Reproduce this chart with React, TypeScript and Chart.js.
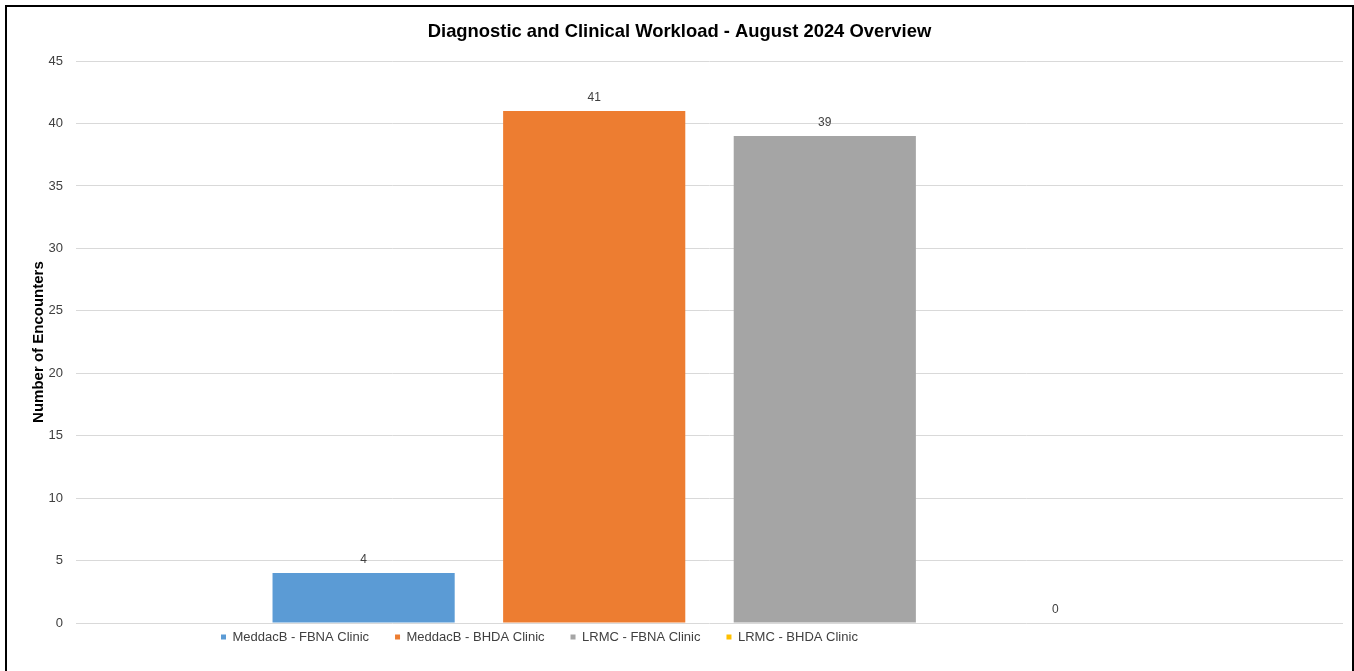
import React, { useEffect, useRef } from 'react';
import { Chart, registerables } from 'chart.js';

Chart.register(...registerables);

// ---- data ----
const categories = ['August 2024'];
const seriesNames = [
  'MeddacB - FBNA Clinic',
  'MeddacB - BHDA Clinic',
  'LRMC - FBNA Clinic',
  'LRMC - BHDA Clinic',
];
const meddacbFbnaValues = [4];
const meddacbBhdaValues = [41];
const lrmcFbnaValues = [39];
const lrmcBhdaValues = [0];
const seriesColors = ['#5B9BD5', '#ED7D31', '#A5A5A5', '#FFC000'];
const yMin = 0;
const yMax = 45;
const yStep = 5;

const chartTitle = 'Diagnostic and Clinical Workload - August 2024 Overview';
const yAxisTitle = 'Number of Encounters';

// ---- layout constants ----
const CANVAS_W = 1345;
const CANVAS_H = 665;
const LEGEND_FIRST_X = 214;
const LEGEND_CENTER_Y = 630;

const FONT = "'Liberation Sans', Arial, sans-serif";

const legendPlacer = {
  id: 'legendPlacer',
  afterLayout(chart: any) {
    const lg = chart.legend;
    if (!lg) return;
    const pad = lg.options.labels.padding;
    const h = lg.bottom - lg.top;
    lg.left = LEGEND_FIRST_X - pad;
    lg.right = CANVAS_W;
    lg.top = LEGEND_CENTER_Y - pad - 6.5;
    lg.bottom = lg.top + h;
  },
};

const valueLabels = {
  id: 'valueLabels',
  afterDatasetsDraw(chart: any) {
    const ctx = chart.ctx;
    ctx.save();
    ctx.font = `12px ${FONT}`;
    ctx.fillStyle = '#404040';
    ctx.textAlign = 'center';
    ctx.textBaseline = 'middle';
    chart.data.datasets.forEach((ds: any, i: number) => {
      const meta = chart.getDatasetMeta(i);
      meta.data.forEach((el: any, j: number) => {
        const v = ds.data[j];
        ctx.fillText(String(v), el.x, el.y - 13);
      });
    });
    ctx.restore();
  },
};

export default function App() {
  const ref = useRef<HTMLCanvasElement | null>(null);

  useEffect(() => {
    if (!ref.current) return;
    Chart.defaults.font.family = FONT;
    const valueSets = [meddacbFbnaValues, meddacbBhdaValues, lrmcFbnaValues, lrmcBhdaValues];
    const chart = new Chart(ref.current, {
      type: 'bar',
      data: {
        labels: categories,
        datasets: seriesNames.map((name, i) => ({
          label: name,
          data: valueSets[i],
          backgroundColor: seriesColors[i],
          borderWidth: 0,
          barPercentage: 0.79,
          categoryPercentage: 0.728,
        })),
      },
      options: {
        responsive: false,
        animation: false,
        devicePixelRatio: 1,
        layout: { padding: { left: 9, right: 9, top: 0, bottom: 0 } },
        plugins: {
          title: {
            display: true,
            text: chartTitle,
            color: '#000000',
            font: { size: 18.4, weight: 'bold', family: FONT },
            padding: { top: 14, bottom: 18 },
          },
          legend: {
            display: true,
            position: 'bottom',
            align: 'start',
            labels: {
              usePointStyle: true,
              pointStyle: 'rect',
              boxWidth: 5,
              boxHeight: 5,
              padding: 26,
              color: '#404040',
              font: { size: 13, family: FONT },
            },
          },
          tooltip: { enabled: false },
        },
        scales: {
          x: {
            display: false,
            grid: { display: false },
          },
          y: {
            min: yMin,
            max: yMax,
            ticks: {
              stepSize: yStep,
              color: '#404040',
              font: { size: 13, family: FONT },
              padding: 13,
            },
            grid: { color: '#D9D9D9', drawTicks: false, lineWidth: 1 },
            border: { display: false },
            title: {
              display: true,
              text: yAxisTitle,
              color: '#000000',
              font: { size: 15, weight: 'bold', family: FONT },
              padding: { top: 14, bottom: 0 },
            },
            afterFit(scale: any) {
              scale.width = 60;
            },
          },
        },
      },
      plugins: [legendPlacer, valueLabels],
    } as any);
    return () => chart.destroy();
  }, []);

  return (
    <div
      style={{
        position: 'absolute',
        left: 5,
        top: 5,
        width: 1349,
        height: 666,
        boxSizing: 'border-box',
        borderTop: '2px solid #000',
        borderLeft: '2px solid #000',
        borderRight: '2px solid #000',
        borderBottom: 'none',
        overflow: 'hidden',
        background: '#fff',
      }}
    >
      <canvas
        ref={ref}
        width={CANVAS_W}
        height={CANVAS_H}
        style={{ display: 'block', width: CANVAS_W, height: CANVAS_H }}
      />
    </div>
  );
}
